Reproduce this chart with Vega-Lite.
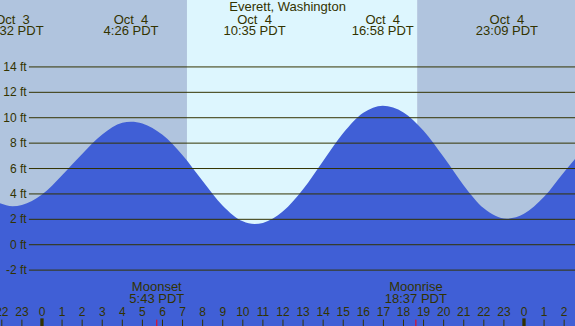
{
  "$schema": "https://vega.github.io/schema/vega-lite/v6.json",
  "width": 575,
  "height": 326,
  "autosize": {"type": "none"},
  "padding": 0,
  "config": {"view": {"stroke": null}, "text": {"font": "Liberation Sans", "color": "#333300"}},
  "datasets": {
    "sky": [
      {"start": -2.09, "end": 7.22, "part": "night"},
      {"start": 7.22, "end": 18.68, "part": "day"},
      {"start": 18.68, "end": 26.54, "part": "night"}
    ],
    "tide": [
      {"h": -2.09, "ft": 3.26}, {"h": -1.467, "ft": 3.02}, {"h": -1, "ft": 3.12}, {"h": 0, "ft": 3.95},
      {"h": 1, "ft": 5.48}, {"h": 2, "ft": 7.15}, {"h": 3, "ft": 8.68}, {"h": 4, "ft": 9.6},
      {"h": 4.433, "ft": 9.69}, {"h": 5, "ft": 9.55}, {"h": 6, "ft": 8.65}, {"h": 7, "ft": 7.04},
      {"h": 8, "ft": 5.01}, {"h": 9, "ft": 3.07}, {"h": 10, "ft": 1.84}, {"h": 10.583, "ft": 1.63},
      {"h": 11, "ft": 1.72}, {"h": 12, "ft": 2.63}, {"h": 13, "ft": 4.37}, {"h": 14, "ft": 6.6},
      {"h": 15, "ft": 8.79}, {"h": 16, "ft": 10.39}, {"h": 16.967, "ft": 10.95}, {"h": 18, "ft": 10.42},
      {"h": 19, "ft": 8.97}, {"h": 20, "ft": 6.9}, {"h": 21, "ft": 4.67}, {"h": 22, "ft": 2.87},
      {"h": 23.15, "ft": 2.05}, {"h": 24, "ft": 2.43}, {"h": 25, "ft": 3.77}, {"h": 26, "ft": 5.73},
      {"h": 26.54, "ft": 6.75}
    ],
    "grid": [
      {"ft": -2, "lbl": "-2 ft"}, {"ft": 0, "lbl": "0 ft"}, {"ft": 2, "lbl": "2 ft"}, {"ft": 4, "lbl": "4 ft"},
      {"ft": 6, "lbl": "6 ft"}, {"ft": 8, "lbl": "8 ft"}, {"ft": 10, "lbl": "10 ft"}, {"ft": 12, "lbl": "12 ft"},
      {"ft": 14, "lbl": "14 ft"}
    ],
    "extremes": [
      {"h": -1.467, "date": "Oct\u00a0\u00a03", "time": "22:32 PDT"},
      {"h": 4.433, "date": "Oct\u00a0\u00a04", "time": "4:26 PDT"},
      {"h": 10.583, "date": "Oct\u00a0\u00a04", "time": "10:35 PDT"},
      {"h": 16.967, "date": "Oct\u00a0\u00a04", "time": "16:58 PDT"},
      {"h": 23.15, "date": "Oct\u00a0\u00a04", "time": "23:09 PDT"}
    ],
    "moon": [
      {"h": 5.717, "event": "Moonset", "time": "5:43 PDT"},
      {"h": 18.617, "event": "Moonrise", "time": "18:37 PDT"}
    ],
    "hours": [
      {"h": -2, "lbl": "22"}, {"h": -1, "lbl": "23"}, {"h": 0, "lbl": "0"}, {"h": 1, "lbl": "1"},
      {"h": 2, "lbl": "2"}, {"h": 3, "lbl": "3"}, {"h": 4, "lbl": "4"}, {"h": 5, "lbl": "5"},
      {"h": 6, "lbl": "6"}, {"h": 7, "lbl": "7"}, {"h": 8, "lbl": "8"}, {"h": 9, "lbl": "9"},
      {"h": 10, "lbl": "10"}, {"h": 11, "lbl": "11"}, {"h": 12, "lbl": "12"}, {"h": 13, "lbl": "13"},
      {"h": 14, "lbl": "14"}, {"h": 15, "lbl": "15"}, {"h": 16, "lbl": "16"}, {"h": 17, "lbl": "17"},
      {"h": 18, "lbl": "18"}, {"h": 19, "lbl": "19"}, {"h": 20, "lbl": "20"}, {"h": 21, "lbl": "21"},
      {"h": 22, "lbl": "22"}, {"h": 23, "lbl": "23"}, {"h": 24, "lbl": "0"}, {"h": 25, "lbl": "1"},
      {"h": 26, "lbl": "2"}
    ],
    "midnights": [{"h": 0}, {"h": 24}],
    "title": [{"name": "Everett, Washington", "h": 12.23}]
  },
  "layer": [
    {
      "data": {"name": "sky"},
      "mark": {"type": "rect"},
      "encoding": {
        "x": {"field": "start", "type": "quantitative", "axis": null, "scale": {"domain": [-2.09, 26.54], "nice": false, "zero": false}},
        "x2": {"field": "end"},
        "y": {"datum": 19.27, "type": "quantitative", "axis": null, "scale": {"domain": [-6.4, 19.27], "nice": false, "zero": false}},
        "y2": {"datum": -6.4},
        "color": {"field": "part", "type": "nominal", "legend": null, "scale": {"domain": ["night", "day"], "range": ["#b0c4de", "#ddf6fe"]}}
      }
    },
    {
      "data": {"name": "tide"},
      "mark": {"type": "area", "interpolate": "monotone", "color": "#405fd6"},
      "encoding": {
        "x": {"field": "h", "type": "quantitative"},
        "y": {"field": "ft", "type": "quantitative"},
        "y2": {"datum": -6.4}
      }
    },
    {
      "data": {"name": "grid"},
      "mark": {"type": "rule", "color": "#333300", "strokeWidth": 1},
      "encoding": {
        "x": {"datum": -0.65},
        "x2": {"datum": 26.54},
        "y": {"field": "ft", "type": "quantitative"}
      }
    },
    {
      "data": {"name": "grid"},
      "mark": {"type": "text", "align": "right", "baseline": "middle", "fontSize": 12},
      "encoding": {
        "x": {"datum": -0.76},
        "y": {"field": "ft", "type": "quantitative"},
        "text": {"field": "lbl"}
      }
    },
    {
      "data": {"name": "title"},
      "mark": {"type": "text", "align": "center", "baseline": "middle", "fontSize": 13},
      "encoding": {
        "x": {"field": "h", "type": "quantitative"},
        "y": {"datum": 18.69},
        "text": {"field": "name"}
      }
    },
    {
      "data": {"name": "extremes"},
      "mark": {"type": "text", "align": "center", "baseline": "middle", "fontSize": 13},
      "encoding": {
        "x": {"field": "h", "type": "quantitative"},
        "y": {"datum": 17.73},
        "text": {"field": "date"}
      }
    },
    {
      "data": {"name": "extremes"},
      "mark": {"type": "text", "align": "center", "baseline": "middle", "fontSize": 13},
      "encoding": {
        "x": {"field": "h", "type": "quantitative"},
        "y": {"datum": 16.79},
        "text": {"field": "time"}
      }
    },
    {
      "data": {"name": "moon"},
      "mark": {"type": "text", "align": "center", "baseline": "middle", "fontSize": 13},
      "encoding": {
        "x": {"field": "h", "type": "quantitative"},
        "y": {"datum": -3.35},
        "text": {"field": "event"}
      }
    },
    {
      "data": {"name": "moon"},
      "mark": {"type": "text", "align": "center", "baseline": "middle", "fontSize": 13},
      "encoding": {
        "x": {"field": "h", "type": "quantitative"},
        "y": {"datum": -4.3},
        "text": {"field": "time"}
      }
    },
    {
      "data": {"name": "hours"},
      "mark": {"type": "text", "align": "center", "baseline": "middle", "fontSize": 12},
      "encoding": {
        "x": {"field": "h", "type": "quantitative"},
        "y": {"datum": -5.3},
        "text": {"field": "lbl"}
      }
    },
    {
      "data": {"name": "hours"},
      "mark": {"type": "rule", "color": "#333300", "strokeWidth": 1},
      "encoding": {
        "x": {"field": "h", "type": "quantitative"},
        "y": {"datum": -5.9},
        "y2": {"datum": -6.4}
      }
    },
    {
      "data": {"name": "midnights"},
      "mark": {"type": "rule", "color": "#333300", "strokeWidth": 3.3},
      "encoding": {
        "x": {"field": "h", "type": "quantitative"},
        "y": {"datum": -5.8},
        "y2": {"datum": -6.4}
      }
    },
    {
      "data": {"name": "moon"},
      "mark": {"type": "rule", "color": "#ff0000", "strokeWidth": 1},
      "encoding": {
        "x": {"field": "h", "type": "quantitative"},
        "y": {"datum": -5.9},
        "y2": {"datum": -6.4}
      }
    }
  ]
}
